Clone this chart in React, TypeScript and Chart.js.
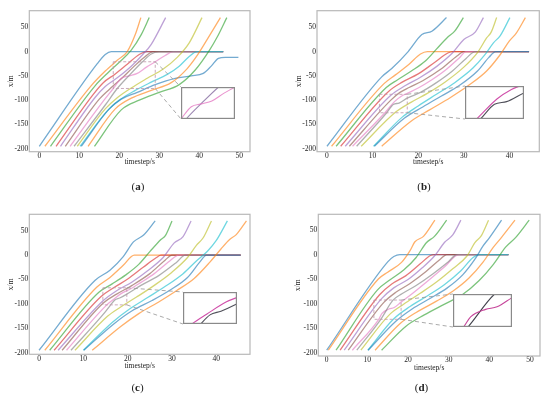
import React, { useEffect, useRef } from "react";
import { Chart, registerables } from "chart.js";

Chart.register(...registerables);

type Pt = [number, number];
type Box = { x0: number; x1: number; y0: number; y1: number };

const TAB10 = ["31,119,180", "255,127,14", "44,160,44", "214,39,40", "148,103,189", "140,86,75", "227,119,194", "127,127,127", "188,189,34", "23,190,207"];
const LABEL_X = "timestep/s";
const LABEL_Y = "x/m";
const CAPTIONS = ["a", "b", "c", "d"];
const X_STEP = 10;
const Y_STEP = 50;

// ---- (a) trajectories: [time, position]
const linesA: Pt[][] = [
  [[0, -195], [14.5, -25], [16.5, -6], [18, 0], [46, 0]],
  [[1.4, -195], [13, -70], [16.5, -40], [19.5, -18], [22, 0], [24, 35], [25.4, 70]],
  [[2.8, -195], [14, -70], [17, -45], [20, -22], [23, 3], [25.5, 35], [27.5, 70]],
  [[4.2, -195], [13.5, -88], [16, -64], [19, -46], [22, -26], [25, -6], [27, 0], [46, 0]],
  [[5.3, -195], [14, -94], [16.5, -72], [19.5, -54], [23, -30], [26, -5], [28, 15], [31.6, 70]],
  [[6.5, -195], [15, -98], [17.5, -78], [20.5, -56], [23.5, -32], [26.5, -10], [28.5, 0], [46, 0]],
  [[7.7, -195], [16, -102], [18.5, -76], [20.5, -55], [22.5, -50], [24.5, -45], [26.8, -32], [29, -21], [31.5, -8], [33.5, 0], [46, 0]],
  [[8.7, -195], [16.5, -110], [19.5, -76], [22.6, -48], [25.8, -21], [28, -5], [30, 0], [46, 0]],
  [[9.5, -195], [16.5, -118], [19.5, -95], [23, -75], [27, -55], [31, -36], [34.5, -12], [37.5, 18], [40.7, 70]],
  [[10.2, -195], [17, -122], [20, -100], [24, -80], [28, -63], [32, -47], [35, -30], [37.5, -10], [39.5, 0], [46, 0]],
  [[10.5, -195], [17.5, -118], [20.5, -98], [24.5, -84], [29, -68], [34, -55], [38, -50], [41, -45], [43, -30], [44.8, -14], [46.5, -12], [49.8, -12]],
  [[12.2, -195], [19, -118], [23, -96], [28, -80], [33, -64], [37, -35], [39.5, -8], [42, 25], [45.3, 70]],
  [[13.8, -195], [20.5, -120], [25, -100], [30, -84], [35, -68], [39, -38], [42.5, 2], [44.5, 30], [46.9, 70]],
];

// ---- (b)
const linesB: Pt[][] = [
  [[0, -195], [12, -52], [14.2, -35], [17.8, 0], [20.8, 35], [23, 42], [26.2, 70]],
  [[1, -195], [12.5, -66], [15, -48], [18, -26], [20.5, -5], [22, 0], [44.3, 0]],
  [[2, -195], [13, -74], [15.5, -58], [18.5, -40], [21.5, -20], [24, 5], [26.5, 30], [28, 42], [29.9, 70]],
  [[3, -195], [13.5, -82], [16.5, -63], [20, -46], [23.5, -23], [26.5, -3], [27.5, 0], [44.3, 0]],
  [[4, -195], [14, -90], [17, -71], [20.5, -53], [24, -31], [27.5, -3], [30, 25], [32.5, 40], [34.3, 70]],
  [[4.9, -195], [14, -100], [16, -84], [18, -74], [21, -60], [25, -36], [28.5, -9], [30, 0], [44.3, 0]],
  [[5.6, -195], [12.7, -126], [14.8, -103], [16.3, -92], [17.6, -86], [20, -75], [23, -58], [26, -38], [29, -13], [30.5, 0], [44.3, 0]],
  [[6.5, -195], [13.1, -126], [14.55, -109], [15.8, -106], [17.6, -96], [20.5, -84], [24, -64], [27.5, -40], [30.5, -14], [32.5, 0], [44.3, 0]],
  [[7.5, -195], [15, -125], [18.5, -104], [22, -86], [26, -62], [30, -32], [33, -2], [35, 28], [36, 40], [37.2, 70]],
  [[10.2, -195], [16.5, -135], [20, -112], [24, -88], [28, -64], [32, -34], [34.5, -8], [36.5, 18], [38, 33], [40.1, 70]],
  [[10.4, -195], [17, -137], [21, -114], [25, -92], [29, -70], [33, -40], [35.5, -12], [37, 0], [44.3, 0]],
  [[12, -195], [18.5, -143], [22.5, -120], [27, -95], [31, -70], [35, -40], [38, -6], [40, 22], [41.5, 38], [43.5, 70]],
];

// ---- (c)
const linesC: Pt[][] = [
  [[0, -195], [12.6, -52], [16, -31], [19, -3], [21.3, 27], [23.6, 41], [26.2, 70]],
  [[1.3, -195], [13, -66], [16, -46], [19, -21], [21.5, 0], [45.5, 0]],
  [[2.4, -195], [13.5, -76], [16.5, -59], [19.5, -41], [22.5, -19], [25, 7], [27.5, 32], [28.5, 40], [30, 70]],
  [[3.4, -195], [14, -85], [17, -66], [20, -49], [23.5, -25], [26.5, -5], [27.5, 0], [45.5, 0]],
  [[4.3, -195], [14.5, -93], [17.5, -73], [21, -55], [24.5, -32], [28, -5], [30.5, 25], [32.5, 38], [34.3, 70]],
  [[5.2, -195], [14.5, -98], [17.5, -80], [21, -62], [25, -38], [28.5, -10], [30, 0], [45.5, 0]],
  [[6.2, -195], [15.3, -102], [16.8, -91], [18.7, -78], [20.5, -70], [23, -56], [26, -38], [29.5, -12], [31.5, 0], [45.5, 0]],
  [[7.2, -195], [14.8, -118], [16, -104], [17.1, -92], [18.2, -88], [19.8, -80], [23, -62], [27, -42], [31, -15], [33, 0], [45.5, 0]],
  [[8.1, -195], [15.5, -125], [18.5, -106], [22, -86], [26, -62], [30, -35], [33.5, -5], [35.5, 20], [37, 35], [38.9, 70]],
  [[10, -195], [16.5, -138], [20.5, -110], [24.5, -87], [28.5, -64], [32.5, -38], [35.5, -12], [38, 8], [40, 30], [42.5, 70]],
  [[10.1, -195], [17, -140], [21, -114], [25.5, -93], [29.5, -72], [33.5, -46], [36.3, -14], [37.8, 0], [45.5, 0]],
  [[12, -195], [18.5, -146], [22.5, -120], [27, -96], [31, -73], [35, -48], [38.5, -15], [41, 12], [43, 32], [44.5, 42], [46.8, 70]],
];

// ---- (d)
const linesD: Pt[][] = [
  [[0, -195], [15, -15], [16.5, -4], [18, 0], [44.7, 0]],
  [[0.4, -195], [12.7, -50], [15, -36], [18.4, -16], [20.5, 8], [21.7, 26], [23.8, 37], [26.6, 70]],
  [[2.3, -195], [12.5, -72], [15.5, -52], [19, -31], [22, -6], [24.5, 24], [26.5, 37], [29.5, 70]],
  [[3.3, -195], [13, -82], [16, -60], [19.5, -43], [23, -19], [25.5, -2], [26.5, 0], [44.7, 0]],
  [[4.3, -195], [13.5, -90], [16.5, -68], [20, -51], [23.5, -27], [26.5, -3], [29, 25], [31, 40], [33, 70]],
  [[5.3, -195], [14, -98], [17, -77], [20.5, -59], [24.5, -34], [28, -9], [29.5, 0], [44.7, 0]],
  [[6.3, -195], [12.8, -132], [13.6, -120], [15.3, -111], [16.6, -108], [18.3, -97], [21, -80], [25, -53], [29, -25], [32.5, 0], [44.7, 0]],
  [[7.4, -195], [13.3, -132], [16.3, -93], [18.5, -80], [22, -63], [26, -40], [30, -14], [32, 0], [44.7, 0]],
  [[8.4, -195], [15.5, -122], [19, -101], [23, -79], [27, -56], [31, -29], [34.5, -3], [36.5, 25], [38, 38], [39.8, 70]],
  [[10.1, -195], [16.5, -131], [20.5, -106], [25, -83], [29, -61], [33, -33], [36, -6], [37.5, 0], [44.7, 0]],
  [[10.2, -195], [17, -136], [21, -111], [25.5, -89], [29.5, -69], [33.5, -41], [36.5, -9], [38.5, 18], [40, 34], [43, 70]],
  [[11.9, -195], [18, -141], [22, -118], [27, -95], [31, -75], [35, -48], [38.5, -15], [41, 15], [43, 35], [46.3, 70]],
  [[13.5, -195], [19.5, -146], [24, -123], [29, -101], [33.5, -81], [37.5, -53], [41, -20], [44, 15], [46.5, 35], [49.8, 70]],
];

// zoomed windows (data coords) and where the inset sits (data coords of the main axes)
const zoomA: Box = { x0: 18.5, x1: 29, y0: -76, y1: -21 };
const insetA: Box = { x0: 35.4, x1: 49, y0: -138.8, y1: -72.3 };
const zoomB: Box = { x0: 11.5, x1: 17.6, y0: -126, y1: -88 };
const insetB: Box = { x0: 30.3, x1: 43.3, y0: -138.8, y1: -70.3 };
const zoomC: Box = { x0: 14.4, x1: 19.8, y0: -102, y1: -67 };
const insetC: Box = { x0: 32.4, x1: 44.7, y0: -141.8, y1: -76.2 };
const zoomD: Box = { x0: 11.6, x1: 18.3, y0: -132, y1: -92.7 };
const insetD: Box = { x0: 31, x1: 45.5, y0: -147, y1: -81 };

const SERIF = "'Liberation Serif', 'DejaVu Serif', serif";
const TEXT = "#222";

interface PanelDef {
  lines: Pt[][];
  zoom: Box;
  inset: Box;
  insetIdx: [number, number];
  insetColors: [string, string];
  left: number; top: number; width: number; height: number;
  padL: number; padT: number; padR: number; padB: number; yW: number; xH: number;
  xMin: number; xMax: number; yMin: number; yMax: number;
  capX: number; capY: number;
}

const PANELS: PanelDef[] = [
  {
    lines: linesA, zoom: zoomA, inset: insetA, insetIdx: [6, 7],
    insetColors: ["rgba(227,119,194,0.8)", "rgba(140,115,165,0.85)"],
    left: 0, top: 0, width: 262, height: 175,
    padL: 6.5, padT: 10.7, padR: 12, padB: 8.2, yW: 22.8, xH: 15.1,
    xMin: -2.5, xMax: 52.7, yMin: -206.2, yMax: 84.2, capX: 138, capY: 186,
  },
  {
    lines: linesB, zoom: zoomB, inset: insetB, insetIdx: [6, 7],
    insetColors: ["rgba(205,70,165,0.95)", "rgba(70,70,80,0.95)"],
    left: 275, top: 0, width: 275, height: 175,
    padL: 19.5, padT: 10.7, padR: 10.7, padB: 8, yW: 22.5, xH: 15.3,
    xMin: -2.19, xMax: 46.55, yMin: -206.2, yMax: 84.2, capX: 424, capY: 185.5,
  },
  {
    lines: linesC, zoom: zoomC, inset: insetC, insetIdx: [6, 7],
    insetColors: ["rgba(205,70,165,0.95)", "rgba(70,70,80,0.95)"],
    left: 0, top: 200, width: 262, height: 195,
    padL: 6.5, padT: 14.3, padR: 12, padB: 24, yW: 22.8, xH: 16.7,
    xMin: -2.2, xMax: 47.6, yMin: -203.3, yMax: 83.6, capX: 137.5, capY: 386.5,
  },
  {
    lines: linesD, zoom: zoomD, inset: insetD, insetIdx: [6, 7],
    insetColors: ["rgba(195,60,150,0.95)", "rgba(55,55,65,0.95)"],
    left: 275, top: 200, width: 275, height: 195,
    padL: 18.8, padT: 14.3, padR: 10, padB: 22.2, yW: 24.5, xH: 16.8,
    xMin: -2.07, xMax: 52.46, yMin: -206.8, yMax: 82, capX: 421.5, capY: 386.5,
  },
];

function insetRect(chart: any, b: Box) {
  const x = chart.scales.x, y = chart.scales.y;
  const l = Math.round(x.getPixelForValue(b.x0));
  const r = Math.round(x.getPixelForValue(b.x1));
  const t = Math.round(y.getPixelForValue(b.y1));
  const bt = Math.round(y.getPixelForValue(b.y0));
  return { l, t, w: r - l, h: bt - t };
}

const framePlugin = {
  id: "zoomFrame",
  afterDatasetsDraw(chart: any, _args: any, opts: any) {
    const { ctx, chartArea: ca, scales } = chart;
    const x = scales.x, y = scales.y;
    const z: Box = opts.zoom;
    const zl = x.getPixelForValue(z.x0), zr = x.getPixelForValue(z.x1);
    const zt = y.getPixelForValue(z.y1), zb = y.getPixelForValue(z.y0);
    const ir = insetRect(chart, opts.inset);
    ctx.save();
    ctx.lineWidth = 0.9;
    ctx.setLineDash([3, 2]);
    ctx.strokeStyle = "rgba(190,150,170,0.9)";
    ctx.strokeRect(zl, zt, zr - zl, zb - zt);
    ctx.strokeStyle = "rgba(150,150,150,0.9)";
    ctx.setLineDash([4, 3]);
    ctx.beginPath();
    ctx.moveTo(zr, zt);
    ctx.lineTo(ir.l, ir.t);
    ctx.moveTo(zr, zb);
    ctx.lineTo(ir.l, ir.t + ir.h);
    ctx.stroke();
    ctx.setLineDash([]);
    ctx.strokeStyle = "#b8b8b8";
    ctx.lineWidth = 1.2;
    ctx.strokeRect(ca.left, ca.top, ca.right - ca.left, ca.bottom - ca.top);
    ctx.restore();
  },
};

const insetFrame = {
  id: "insetFrame",
  beforeDraw(chart: any) {
    const { ctx, width, height } = chart;
    ctx.save();
    ctx.fillStyle = "#fff";
    ctx.fillRect(0, 0, width, height);
    ctx.restore();
  },
  afterDraw(chart: any) {
    const { ctx, width, height } = chart;
    ctx.save();
    ctx.strokeStyle = "#8a8a8a";
    ctx.lineWidth = 1.2;
    ctx.strokeRect(0.6, 0.6, width - 1.2, height - 1.2);
    ctx.restore();
  },
};

const tickFont = { family: SERIF, size: 7.5 };

function mainConfig(p: PanelDef): any {
  const n = p.lines.length;
  return {
    type: "line",
    data: {
      datasets: p.lines.map((pts, i) => ({
        data: pts.map(([x, y]) => ({ x, y })),
        borderColor: `rgba(${TAB10[i % 10]},0.62)`,
        borderWidth: 1.3,
        pointRadius: 0,
        fill: false,
        cubicInterpolationMode: "monotone",
        order: n - i,
      })),
    },
    options: {
      responsive: false,
      animation: false,
      events: [],
      layout: { padding: { left: p.padL, top: p.padT, right: p.padR, bottom: p.padB } },
      plugins: {
        legend: { display: false },
        tooltip: { enabled: false },
        zoomFrame: { zoom: p.zoom, inset: p.inset },
      },
      scales: {
        x: {
          type: "linear",
          min: p.xMin,
          max: p.xMax,
          grid: { display: false, drawTicks: false },
          border: { display: false },
          ticks: { stepSize: X_STEP, includeBounds: false, autoSkip: false, maxRotation: 0, padding: 0, font: tickFont, color: TEXT },
          title: { display: true, text: LABEL_X, font: tickFont, color: TEXT, padding: 0 },
          afterFit: (s: any) => { s.height = p.xH; },
        },
        y: {
          type: "linear",
          min: p.yMin,
          max: p.yMax,
          grid: { display: false, drawTicks: false },
          border: { display: false },
          ticks: { stepSize: Y_STEP, includeBounds: false, autoSkip: false, padding: 1, font: tickFont, color: TEXT },
          title: { display: true, text: LABEL_Y, font: tickFont, color: TEXT, padding: 0 },
          afterFit: (s: any) => { s.width = p.yW; },
        },
      },
    },
    plugins: [framePlugin],
  };
}

function insetConfig(p: PanelDef): any {
  return {
    type: "line",
    data: {
      datasets: p.insetIdx.map((k, j) => ({
        data: p.lines[k].map(([x, y]) => ({ x, y })),
        borderColor: p.insetColors[j],
        borderWidth: 1.1,
        pointRadius: 0,
        fill: false,
        cubicInterpolationMode: "monotone",
      })),
    },
    options: {
      responsive: false,
      animation: false,
      events: [],
      layout: { padding: 0 },
      plugins: { legend: { display: false }, tooltip: { enabled: false } },
      scales: {
        x: { type: "linear", display: false, min: p.zoom.x0, max: p.zoom.x1 },
        y: { type: "linear", display: false, min: p.zoom.y0, max: p.zoom.y1 },
      },
    },
    plugins: [insetFrame],
  };
}

export default function App() {
  const mainRefs = useRef<(HTMLCanvasElement | null)[]>([]);
  const insetRefs = useRef<(HTMLCanvasElement | null)[]>([]);

  useEffect(() => {
    const charts: Chart[] = [];
    PANELS.forEach((p, i) => {
      const cv = mainRefs.current[i];
      const iv = insetRefs.current[i];
      if (!cv || !iv) return;
      const main = new Chart(cv, mainConfig(p));
      charts.push(main);
      const r = insetRect(main, p.inset);
      iv.width = r.w;
      iv.height = r.h;
      iv.style.left = `${p.left + r.l}px`;
      iv.style.top = `${p.top + r.t}px`;
      iv.style.width = `${r.w}px`;
      iv.style.height = `${r.h}px`;
      charts.push(new Chart(iv, insetConfig(p)));
    });
    return () => charts.forEach((c) => c.destroy());
  }, []);

  return (
    <div style={{ position: "absolute", left: 0, top: 0, width: 550, height: 395, background: "#fff", overflow: "hidden" }}>
      {PANELS.map((p, i) => (
        <React.Fragment key={i}>
          <canvas
            ref={(el) => { mainRefs.current[i] = el; }}
            width={p.width}
            height={p.height}
            style={{ position: "absolute", left: p.left, top: p.top, width: p.width, height: p.height }}
          />
          <canvas
            ref={(el) => { insetRefs.current[i] = el; }}
            width={10}
            height={10}
            style={{ position: "absolute", left: 0, top: 0, width: 10, height: 10 }}
          />
          <div
            style={{
              position: "absolute",
              left: p.capX,
              top: p.capY,
              transform: "translate(-50%, -50%)",
              fontFamily: SERIF,
              fontSize: 11,
              lineHeight: 1,
              color: TEXT,
              whiteSpace: "nowrap",
            }}
          >
            (<b>{CAPTIONS[i]}</b>)
          </div>
        </React.Fragment>
      ))}
    </div>
  );
}
